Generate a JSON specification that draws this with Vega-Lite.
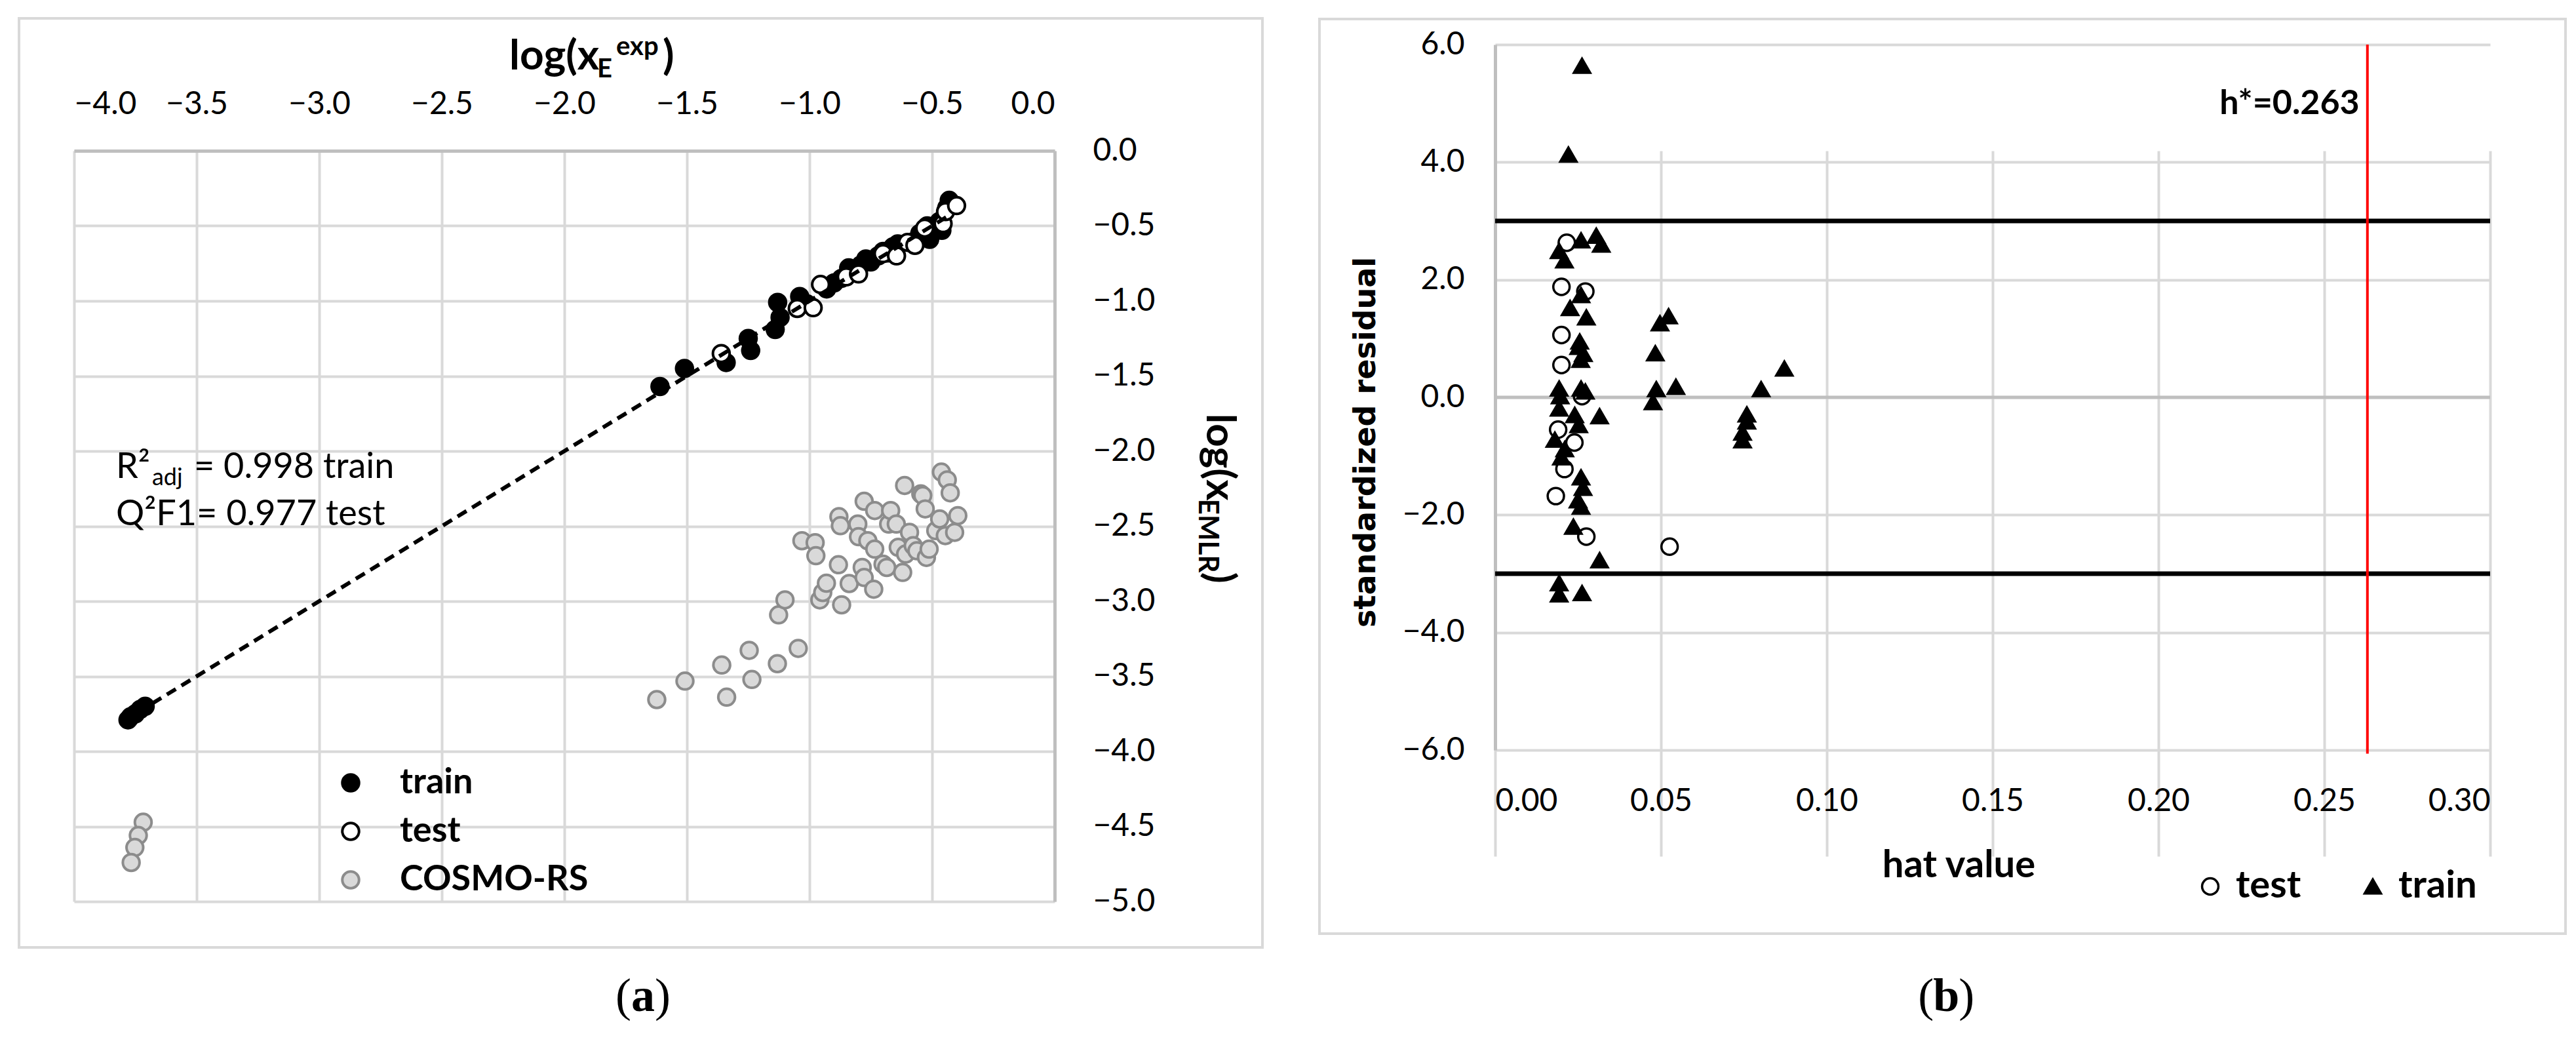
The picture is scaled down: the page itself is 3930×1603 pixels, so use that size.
{
  "$schema": "https://vega.github.io/schema/vega-lite/v6.json",
  "background": "white",
  "padding": {"left": 26, "top": 26, "right": 16, "bottom": 30},
  "spacing": 82,
  "resolve": {
    "scale": {"fill": "independent", "stroke": "independent", "shape": "independent"},
    "legend": {"fill": "independent", "stroke": "independent", "shape": "independent"}
  },
  "config": {
    "view": {"stroke": null},
    "axis": {"labelFont": "Lato", "titleFont": "Lato", "labelColor": "#000000", "titleColor": "#000000"},
    "legend": {"labelFont": "Lato", "labelColor": "#000000"},
    "text": {"font": "Lato", "color": "#000000"}
  },
  "datasets": {
    "a_points": [
      {"logx_exp": -3.78, "logx_emlr": -3.79, "series": "train"},
      {"logx_exp": -3.77, "logx_emlr": -3.77, "series": "train"},
      {"logx_exp": -3.75, "logx_emlr": -3.75, "series": "train"},
      {"logx_exp": -3.73, "logx_emlr": -3.72, "series": "train"},
      {"logx_exp": -3.71, "logx_emlr": -3.70, "series": "train"},
      {"logx_exp": -1.61, "logx_emlr": -1.57, "series": "train"},
      {"logx_exp": -1.51, "logx_emlr": -1.45, "series": "train"},
      {"logx_exp": -1.34, "logx_emlr": -1.41, "series": "train"},
      {"logx_exp": -1.25, "logx_emlr": -1.25, "series": "train"},
      {"logx_exp": -1.24, "logx_emlr": -1.33, "series": "train"},
      {"logx_exp": -1.14, "logx_emlr": -1.19, "series": "train"},
      {"logx_exp": -1.12, "logx_emlr": -1.11, "series": "train"},
      {"logx_exp": -1.13, "logx_emlr": -1.01, "series": "train"},
      {"logx_exp": -1.04, "logx_emlr": -0.97, "series": "train"},
      {"logx_exp": -1.01, "logx_emlr": -1.02, "series": "train"},
      {"logx_exp": -0.93, "logx_emlr": -0.92, "series": "train"},
      {"logx_exp": -0.90, "logx_emlr": -0.88, "series": "train"},
      {"logx_exp": -0.87, "logx_emlr": -0.85, "series": "train"},
      {"logx_exp": -0.85, "logx_emlr": -0.83, "series": "train"},
      {"logx_exp": -0.84, "logx_emlr": -0.78, "series": "train"},
      {"logx_exp": -0.81, "logx_emlr": -0.80, "series": "train"},
      {"logx_exp": -0.79, "logx_emlr": -0.76, "series": "train"},
      {"logx_exp": -0.77, "logx_emlr": -0.72, "series": "train"},
      {"logx_exp": -0.75, "logx_emlr": -0.74, "series": "train"},
      {"logx_exp": -0.72, "logx_emlr": -0.70, "series": "train"},
      {"logx_exp": -0.70, "logx_emlr": -0.67, "series": "train"},
      {"logx_exp": -0.68, "logx_emlr": -0.68, "series": "train"},
      {"logx_exp": -0.66, "logx_emlr": -0.64, "series": "train"},
      {"logx_exp": -0.64, "logx_emlr": -0.62, "series": "train"},
      {"logx_exp": -0.57, "logx_emlr": -0.60, "series": "train"},
      {"logx_exp": -0.55, "logx_emlr": -0.55, "series": "train"},
      {"logx_exp": -0.52, "logx_emlr": -0.50, "series": "train"},
      {"logx_exp": -0.51, "logx_emlr": -0.59, "series": "train"},
      {"logx_exp": -0.49, "logx_emlr": -0.52, "series": "train"},
      {"logx_exp": -0.47, "logx_emlr": -0.47, "series": "train"},
      {"logx_exp": -0.46, "logx_emlr": -0.53, "series": "train"},
      {"logx_exp": -0.44, "logx_emlr": -0.38, "series": "train"},
      {"logx_exp": -0.43, "logx_emlr": -0.33, "series": "train"},
      {"logx_exp": -1.36, "logx_emlr": -1.35, "series": "test"},
      {"logx_exp": -1.05, "logx_emlr": -1.05, "series": "test"},
      {"logx_exp": -0.985, "logx_emlr": -1.045, "series": "test"},
      {"logx_exp": -0.955, "logx_emlr": -0.89, "series": "test"},
      {"logx_exp": -0.85, "logx_emlr": -0.84, "series": "test"},
      {"logx_exp": -0.80, "logx_emlr": -0.82, "series": "test"},
      {"logx_exp": -0.70, "logx_emlr": -0.685, "series": "test"},
      {"logx_exp": -0.645, "logx_emlr": -0.70, "series": "test"},
      {"logx_exp": -0.60, "logx_emlr": -0.61, "series": "test"},
      {"logx_exp": -0.57, "logx_emlr": -0.63, "series": "test"},
      {"logx_exp": -0.53, "logx_emlr": -0.515, "series": "test"},
      {"logx_exp": -0.455, "logx_emlr": -0.485, "series": "test"},
      {"logx_exp": -0.445, "logx_emlr": -0.405, "series": "test"},
      {"logx_exp": -0.40, "logx_emlr": -0.365, "series": "test"},
      {"logx_exp": -3.718, "logx_emlr": -4.472, "series": "COSMO-RS"},
      {"logx_exp": -3.738, "logx_emlr": -4.56, "series": "COSMO-RS"},
      {"logx_exp": -3.752, "logx_emlr": -4.64, "series": "COSMO-RS"},
      {"logx_exp": -3.767, "logx_emlr": -4.74, "series": "COSMO-RS"},
      {"logx_exp": -1.623, "logx_emlr": -3.655, "series": "COSMO-RS"},
      {"logx_exp": -1.508, "logx_emlr": -3.532, "series": "COSMO-RS"},
      {"logx_exp": -1.358, "logx_emlr": -3.425, "series": "COSMO-RS"},
      {"logx_exp": -1.338, "logx_emlr": -3.639, "series": "COSMO-RS"},
      {"logx_exp": -1.246, "logx_emlr": -3.327, "series": "COSMO-RS"},
      {"logx_exp": -1.235, "logx_emlr": -3.521, "series": "COSMO-RS"},
      {"logx_exp": -1.131, "logx_emlr": -3.416, "series": "COSMO-RS"},
      {"logx_exp": -1.046, "logx_emlr": -3.314, "series": "COSMO-RS"},
      {"logx_exp": -1.126, "logx_emlr": -3.091, "series": "COSMO-RS"},
      {"logx_exp": -1.100, "logx_emlr": -2.991, "series": "COSMO-RS"},
      {"logx_exp": -1.031, "logx_emlr": -2.597, "series": "COSMO-RS"},
      {"logx_exp": -0.977, "logx_emlr": -2.610, "series": "COSMO-RS"},
      {"logx_exp": -0.974, "logx_emlr": -2.697, "series": "COSMO-RS"},
      {"logx_exp": -0.958, "logx_emlr": -2.991, "series": "COSMO-RS"},
      {"logx_exp": -0.946, "logx_emlr": -2.942, "series": "COSMO-RS"},
      {"logx_exp": -0.931, "logx_emlr": -2.880, "series": "COSMO-RS"},
      {"logx_exp": -0.869, "logx_emlr": -3.024, "series": "COSMO-RS"},
      {"logx_exp": -0.882, "logx_emlr": -2.757, "series": "COSMO-RS"},
      {"logx_exp": -0.880, "logx_emlr": -2.437, "series": "COSMO-RS"},
      {"logx_exp": -0.874, "logx_emlr": -2.497, "series": "COSMO-RS"},
      {"logx_exp": -0.838, "logx_emlr": -2.882, "series": "COSMO-RS"},
      {"logx_exp": -0.803, "logx_emlr": -2.486, "series": "COSMO-RS"},
      {"logx_exp": -0.800, "logx_emlr": -2.570, "series": "COSMO-RS"},
      {"logx_exp": -0.785, "logx_emlr": -2.775, "series": "COSMO-RS"},
      {"logx_exp": -0.777, "logx_emlr": -2.842, "series": "COSMO-RS"},
      {"logx_exp": -0.777, "logx_emlr": -2.334, "series": "COSMO-RS"},
      {"logx_exp": -0.762, "logx_emlr": -2.597, "series": "COSMO-RS"},
      {"logx_exp": -0.738, "logx_emlr": -2.920, "series": "COSMO-RS"},
      {"logx_exp": -0.734, "logx_emlr": -2.396, "series": "COSMO-RS"},
      {"logx_exp": -0.734, "logx_emlr": -2.653, "series": "COSMO-RS"},
      {"logx_exp": -0.700, "logx_emlr": -2.753, "series": "COSMO-RS"},
      {"logx_exp": -0.685, "logx_emlr": -2.775, "series": "COSMO-RS"},
      {"logx_exp": -0.677, "logx_emlr": -2.486, "series": "COSMO-RS"},
      {"logx_exp": -0.669, "logx_emlr": -2.396, "series": "COSMO-RS"},
      {"logx_exp": -0.646, "logx_emlr": -2.486, "series": "COSMO-RS"},
      {"logx_exp": -0.638, "logx_emlr": -2.641, "series": "COSMO-RS"},
      {"logx_exp": -0.620, "logx_emlr": -2.808, "series": "COSMO-RS"},
      {"logx_exp": -0.612, "logx_emlr": -2.229, "series": "COSMO-RS"},
      {"logx_exp": -0.608, "logx_emlr": -2.686, "series": "COSMO-RS"},
      {"logx_exp": -0.592, "logx_emlr": -2.541, "series": "COSMO-RS"},
      {"logx_exp": -0.577, "logx_emlr": -2.630, "series": "COSMO-RS"},
      {"logx_exp": -0.562, "logx_emlr": -2.664, "series": "COSMO-RS"},
      {"logx_exp": -0.546, "logx_emlr": -2.285, "series": "COSMO-RS"},
      {"logx_exp": -0.538, "logx_emlr": -2.296, "series": "COSMO-RS"},
      {"logx_exp": -0.528, "logx_emlr": -2.385, "series": "COSMO-RS"},
      {"logx_exp": -0.523, "logx_emlr": -2.708, "series": "COSMO-RS"},
      {"logx_exp": -0.512, "logx_emlr": -2.653, "series": "COSMO-RS"},
      {"logx_exp": -0.485, "logx_emlr": -2.530, "series": "COSMO-RS"},
      {"logx_exp": -0.469, "logx_emlr": -2.452, "series": "COSMO-RS"},
      {"logx_exp": -0.462, "logx_emlr": -2.140, "series": "COSMO-RS"},
      {"logx_exp": -0.438, "logx_emlr": -2.192, "series": "COSMO-RS"},
      {"logx_exp": -0.446, "logx_emlr": -2.563, "series": "COSMO-RS"},
      {"logx_exp": -0.426, "logx_emlr": -2.278, "series": "COSMO-RS"},
      {"logx_exp": -0.408, "logx_emlr": -2.541, "series": "COSMO-RS"},
      {"logx_exp": -0.395, "logx_emlr": -2.430, "series": "COSMO-RS"}
    ],
    "b_points": [
      {"hat": 0.0262, "res": 5.64, "set": "train"},
      {"hat": 0.0221, "res": 4.13, "set": "train"},
      {"hat": 0.0193, "res": 2.49, "set": "train"},
      {"hat": 0.0259, "res": 2.67, "set": "train"},
      {"hat": 0.0305, "res": 2.75, "set": "train"},
      {"hat": 0.0320, "res": 2.60, "set": "train"},
      {"hat": 0.0209, "res": 2.33, "set": "train"},
      {"hat": 0.0259, "res": 1.74, "set": "train"},
      {"hat": 0.0226, "res": 1.52, "set": "train"},
      {"hat": 0.0275, "res": 1.36, "set": "train"},
      {"hat": 0.0497, "res": 1.26, "set": "train"},
      {"hat": 0.0523, "res": 1.38, "set": "train"},
      {"hat": 0.0483, "res": 0.75, "set": "train"},
      {"hat": 0.0252, "res": 0.86, "set": "train"},
      {"hat": 0.0266, "res": 0.74, "set": "train"},
      {"hat": 0.0258, "res": 0.64, "set": "train"},
      {"hat": 0.0255, "res": 0.95, "set": "train"},
      {"hat": 0.0193, "res": 0.15, "set": "train"},
      {"hat": 0.0259, "res": 0.15, "set": "train"},
      {"hat": 0.0272, "res": 0.10, "set": "train"},
      {"hat": 0.0486, "res": 0.14, "set": "train"},
      {"hat": 0.0476, "res": -0.08, "set": "train"},
      {"hat": 0.0545, "res": 0.18, "set": "train"},
      {"hat": 0.0802, "res": 0.14, "set": "train"},
      {"hat": 0.0872, "res": 0.49, "set": "train"},
      {"hat": 0.0759, "res": -0.29, "set": "train"},
      {"hat": 0.0759, "res": -0.41, "set": "train"},
      {"hat": 0.0746, "res": -0.60, "set": "train"},
      {"hat": 0.0746, "res": -0.73, "set": "train"},
      {"hat": 0.0193, "res": -0.19, "set": "train"},
      {"hat": 0.0196, "res": 0.02, "set": "train"},
      {"hat": 0.0315, "res": -0.32, "set": "train"},
      {"hat": 0.0252, "res": -0.47, "set": "train"},
      {"hat": 0.0240, "res": -0.30, "set": "train"},
      {"hat": 0.0180, "res": -0.72, "set": "train"},
      {"hat": 0.0200, "res": -1.02, "set": "train"},
      {"hat": 0.0210, "res": -0.88, "set": "train"},
      {"hat": 0.0259, "res": -1.36, "set": "train"},
      {"hat": 0.0265, "res": -1.54, "set": "train"},
      {"hat": 0.0250, "res": -1.75, "set": "train"},
      {"hat": 0.0259, "res": -1.86, "set": "train"},
      {"hat": 0.0236, "res": -2.20, "set": "train"},
      {"hat": 0.0315, "res": -2.77, "set": "train"},
      {"hat": 0.0193, "res": -3.16, "set": "train"},
      {"hat": 0.0193, "res": -3.35, "set": "train"},
      {"hat": 0.0262, "res": -3.33, "set": "train"},
      {"hat": 0.0216, "res": 2.63, "set": "test"},
      {"hat": 0.0200, "res": 1.88, "set": "test"},
      {"hat": 0.0272, "res": 1.80, "set": "test"},
      {"hat": 0.0200, "res": 1.06, "set": "test"},
      {"hat": 0.0200, "res": 0.55, "set": "test"},
      {"hat": 0.0262, "res": 0.02, "set": "test"},
      {"hat": 0.0190, "res": -0.55, "set": "test"},
      {"hat": 0.0239, "res": -0.77, "set": "test"},
      {"hat": 0.0209, "res": -1.22, "set": "test"},
      {"hat": 0.0183, "res": -1.68, "set": "test"},
      {"hat": 0.0275, "res": -2.37, "set": "test"},
      {"hat": 0.0526, "res": -2.54, "set": "test"}
    ]
  },
  "hconcat": [
    {
      "width": 1496,
      "height": 1145,
      "layer": [
        {
          "data": {"values": [{"frame": "a"}]},
          "mark": {"type": "rect", "fill": "transparent", "stroke": "#d9d9d9", "strokeWidth": 4, "clip": false},
          "encoding": {
            "x": {"datum": -4.2246, "type": "quantitative", "scale": {"domain": [-4, 0], "nice": false, "zero": false}},
            "x2": {"datum": 0.8476},
            "y": {"datum": 0.882, "type": "quantitative", "scale": {"domain": [-5, 0], "nice": false, "zero": false}},
            "y2": {"datum": -5.306}
          }
        },
        {
          "data": {"name": "a_points"},
          "mark": {"type": "point", "shape": "circle", "filled": true, "size": 650, "strokeWidth": 4, "opacity": 1},
          "encoding": {
            "x": {"field": "logx_exp", "type": "quantitative", "scale": {"domain": [-4, 0], "nice": false, "zero": false},
              "axis": {"orient": "top", "title": null, "values": [-4, -3.5, -3, -2.5, -2, -1.5, -1, -0.5, 0], "format": ".1f",
                "grid": true, "gridColor": "#d9d9d9", "gridWidth": 4, "ticks": false, "domain": true, "domainColor": "#bfbfbf", "domainWidth": 5,
                "labelFontSize": 48, "labelPadding": 47}},
            "y": {"field": "logx_emlr", "type": "quantitative", "scale": {"domain": [-5, 0], "nice": false, "zero": false},
              "axis": {"orient": "right", "title": null, "values": [-5, -4.5, -4, -3.5, -3, -2.5, -2, -1.5, -1, -0.5, 0], "format": ".1f",
                "grid": true, "gridColor": "#d9d9d9", "gridWidth": 4, "ticks": false, "domain": true, "domainColor": "#bfbfbf", "domainWidth": 5,
                "labelFontSize": 48, "labelPadding": 58}},
            "fill": {"field": "series", "type": "nominal",
              "scale": {"domain": ["train", "test", "COSMO-RS"], "range": ["#000000", "#ffffff", "#d9d9d9"]},
              "legend": {"title": null, "orient": "none", "legendX": 395, "legendY": 937, "direction": "vertical", "padding": 0,
                "labelFontSize": 54, "labelFontWeight": "bold", "labelLimit": 500, "symbolSize": 650, "symbolStrokeWidth": 4, "symbolType": "circle",
                "labelOffset": 48, "rowPadding": 20}},
            "stroke": {"field": "series", "type": "nominal",
              "scale": {"domain": ["train", "test", "COSMO-RS"], "range": ["#000000", "#000000", "#8c8c8c"]},
              "legend": {"title": null, "orient": "none", "legendX": 395, "legendY": 937, "direction": "vertical", "padding": 0,
                "labelFontSize": 54, "labelFontWeight": "bold", "labelLimit": 500, "symbolSize": 650, "symbolStrokeWidth": 4, "symbolType": "circle",
                "labelOffset": 48, "rowPadding": 20}}
          }
        },
        {
          "data": {"values": [{"xe": -3.74, "ye": -3.74}, {"xe": -0.42, "ye": -0.42}]},
          "mark": {"type": "line", "color": "#000000", "strokeWidth": 6, "strokeDash": [16, 10]},
          "encoding": {
            "x": {"field": "xe", "type": "quantitative", "scale": {"domain": [-4, 0], "nice": false, "zero": false}},
            "y": {"field": "ye", "type": "quantitative", "scale": {"domain": [-5, 0], "nice": false, "zero": false}}
          }
        },
        {
          "data": {"values": [{"t": "R²"}]},
          "mark": {"type": "text", "align": "left", "baseline": "alphabetic", "fontSize": 54},
          "encoding": {"x": {"datum": -3.829, "type": "quantitative"}, "y": {"datum": -2.179, "type": "quantitative"}, "text": {"field": "t"}}
        },
        {
          "data": {"values": [{"t": "adj"}]},
          "mark": {"type": "text", "align": "left", "baseline": "alphabetic", "fontSize": 36, "dx": 55, "dy": 11},
          "encoding": {"x": {"datum": -3.829, "type": "quantitative"}, "y": {"datum": -2.179, "type": "quantitative"}, "text": {"field": "t"}}
        },
        {
          "data": {"values": [{"t": "= 0.998 train"}]},
          "mark": {"type": "text", "align": "left", "baseline": "alphabetic", "fontSize": 54, "dx": 119},
          "encoding": {"x": {"datum": -3.829, "type": "quantitative"}, "y": {"datum": -2.179, "type": "quantitative"}, "text": {"field": "t"}}
        },
        {
          "data": {"values": [{"t": "Q²F1= 0.977 test"}]},
          "mark": {"type": "text", "align": "left", "baseline": "alphabetic", "fontSize": 54},
          "encoding": {"x": {"datum": -3.829, "type": "quantitative"}, "y": {"datum": -2.494, "type": "quantitative"}, "text": {"field": "t"}}
        },
        {
          "data": {"values": [{"t": "log(x"}]},
          "mark": {"type": "text", "align": "left", "baseline": "alphabetic", "fontSize": 64, "fontWeight": "bold"},
          "encoding": {"x": {"datum": -2.2246, "type": "quantitative"}, "y": {"datum": 0.541, "type": "quantitative"}, "text": {"field": "t"}}
        },
        {
          "data": {"values": [{"t": "E"}]},
          "mark": {"type": "text", "align": "left", "baseline": "alphabetic", "fontSize": 40, "fontWeight": "bold", "dx": 134, "dy": 12},
          "encoding": {"x": {"datum": -2.2246, "type": "quantitative"}, "y": {"datum": 0.541, "type": "quantitative"}, "text": {"field": "t"}}
        },
        {
          "data": {"values": [{"t": "exp"}]},
          "mark": {"type": "text", "align": "left", "baseline": "alphabetic", "fontSize": 40, "fontWeight": "bold", "dx": 163, "dy": -22},
          "encoding": {"x": {"datum": -2.2246, "type": "quantitative"}, "y": {"datum": 0.541, "type": "quantitative"}, "text": {"field": "t"}}
        },
        {
          "data": {"values": [{"t": ")"}]},
          "mark": {"type": "text", "align": "left", "baseline": "alphabetic", "fontSize": 64, "fontWeight": "bold", "dx": 234},
          "encoding": {"x": {"datum": -2.2246, "type": "quantitative"}, "y": {"datum": 0.541, "type": "quantitative"}, "text": {"field": "t"}}
        },
        {
          "data": {"values": [{"t": "log(x"}]},
          "mark": {"type": "text", "align": "left", "baseline": "alphabetic", "fontSize": 62, "fontWeight": "bold", "angle": 90},
          "encoding": {"x": {"datum": 0.6207, "type": "quantitative"}, "y": {"datum": -1.75, "type": "quantitative"}, "text": {"field": "t"}}
        },
        {
          "data": {"values": [{"t": "EMLR"}]},
          "mark": {"type": "text", "align": "left", "baseline": "alphabetic", "fontSize": 42, "fontWeight": "bold", "angle": 90, "dx": 130, "dy": 12},
          "encoding": {"x": {"datum": 0.6207, "type": "quantitative"}, "y": {"datum": -1.75, "type": "quantitative"}, "text": {"field": "t"}}
        },
        {
          "data": {"values": [{"t": ")"}]},
          "mark": {"type": "text", "align": "left", "baseline": "alphabetic", "fontSize": 62, "fontWeight": "bold", "angle": 90, "dx": 242},
          "encoding": {"x": {"datum": 0.6207, "type": "quantitative"}, "y": {"datum": -1.75, "type": "quantitative"}, "text": {"field": "t"}}
        },
        {
          "data": {"values": [{"t": "("}]},
          "mark": {"type": "text", "align": "right", "baseline": "middle", "font": "Liberation Serif", "fontSize": 72, "dx": -18},
          "encoding": {"x": {"datum": -1.679, "type": "quantitative"}, "y": {"datum": -5.633, "type": "quantitative"}, "text": {"field": "t"}}
        },
        {
          "data": {"values": [{"t": "a"}]},
          "mark": {"type": "text", "align": "center", "baseline": "middle", "font": "Liberation Serif", "fontSize": 72, "fontWeight": "bold"},
          "encoding": {"x": {"datum": -1.679, "type": "quantitative"}, "y": {"datum": -5.633, "type": "quantitative"}, "text": {"field": "t"}}
        },
        {
          "data": {"values": [{"t": ")"}]},
          "mark": {"type": "text", "align": "left", "baseline": "middle", "font": "Liberation Serif", "fontSize": 72, "dx": 18},
          "encoding": {"x": {"datum": -1.679, "type": "quantitative"}, "y": {"datum": -5.633, "type": "quantitative"}, "text": {"field": "t"}}
        }
      ]
    },
    {
      "width": 1518,
      "height": 914,
      "layer": [
        {
          "data": {"values": [{"frame": "b"}]},
          "mark": {"type": "rect", "fill": "transparent", "stroke": "#d9d9d9", "strokeWidth": 4, "clip": false},
          "encoding": {
            "x": {"datum": -0.05296, "type": "quantitative", "scale": {"domain": [0, 0.3], "nice": false, "zero": false}},
            "x2": {"datum": 0.32273},
            "y": {"datum": 6.435, "type": "quantitative", "scale": {"domain": [-6, 6], "nice": false, "zero": false, "range": [914, -162]}},
            "y2": {"datum": -9.123}
          }
        },
        {
          "data": {"values": [{"zero": 0}]},
          "mark": {"type": "rule", "color": "#bfbfbf", "strokeWidth": 5},
          "encoding": {"y": {"field": "zero", "type": "quantitative", "scale": {"domain": [-6, 6], "nice": false, "zero": false, "range": [914, -162]}}}
        },
        {
          "data": {"values": [{"limit": 3}, {"limit": -3}]},
          "mark": {"type": "rule", "color": "#000000", "strokeWidth": 7},
          "encoding": {"y": {"field": "limit", "type": "quantitative", "scale": {"domain": [-6, 6], "nice": false, "zero": false, "range": [914, -162]}}}
        },
        {
          "data": {"values": [{"hstar": 0.263}]},
          "mark": {"type": "rule", "color": "#ff0000", "strokeWidth": 4},
          "encoding": {
            "x": {"field": "hstar", "type": "quantitative", "scale": {"domain": [0, 0.3], "nice": false, "zero": false}},
            "y": {"datum": 6, "type": "quantitative", "scale": {"domain": [-6, 6], "nice": false, "zero": false, "range": [914, -162]}},
            "y2": {"datum": -6.06}
          }
        },
        {
          "data": {"name": "b_points"},
          "mark": {"type": "point", "filled": true, "size": 620, "strokeWidth": 3.5, "opacity": 1},
          "encoding": {
            "x": {"field": "hat", "type": "quantitative", "scale": {"domain": [0, 0.3], "nice": false, "zero": false},
              "axis": {"orient": "bottom", "title": "hat value", "values": [0, 0.05, 0.1, 0.15, 0.2, 0.25, 0.3], "format": ".2f",
                "grid": true, "gridColor": "#d9d9d9", "gridWidth": 4, "ticks": false, "domain": false,
                "labelFontSize": 48, "labelPadding": 54,
                "titleFontSize": 58, "titleFontWeight": "bold", "titleX": 707, "titleY": 176, "titleBaseline": "middle"}},
            "y": {"field": "res", "type": "quantitative", "scale": {"domain": [-6, 6], "nice": false, "zero": false, "range": [914, -162]},
              "axis": {"orient": "left", "title": "standardized  residual", "values": [-6, -4, -2, 0, 2, 4, 6], "format": ".1f",
                "grid": true, "gridColor": "#d9d9d9", "gridWidth": 4, "ticks": false, "domain": true, "domainColor": "#bfbfbf", "domainWidth": 5,
                "labelFontSize": 48, "labelPadding": 47,
                "titleFont": "DejaVu Sans", "titleFontSize": 46, "titleFontWeight": "bold", "titleX": -198, "titleY": 444, "titleBaseline": "middle", "titleAngle": -90}},
            "shape": {"field": "set", "type": "nominal", "scale": {"domain": ["test", "train"], "range": ["circle", "triangle-up"]},
              "legend": {"title": null, "orient": "none", "legendX": 1062, "legendY": 1093, "direction": "horizontal", "padding": 0,
                "labelFontSize": 58, "labelFontWeight": "bold", "symbolSize": 620, "symbolStrokeWidth": 3.5, "labelOffset": 10, "columnPadding": 80}},
            "fill": {"field": "set", "type": "nominal", "scale": {"domain": ["test", "train"], "range": ["transparent", "#000000"]},
              "legend": {"title": null, "orient": "none", "legendX": 1062, "legendY": 1093, "direction": "horizontal", "padding": 0,
                "labelFontSize": 58, "labelFontWeight": "bold", "symbolSize": 620, "symbolStrokeWidth": 3.5, "labelOffset": 10, "columnPadding": 80}},
            "stroke": {"field": "set", "type": "nominal", "scale": {"domain": ["test", "train"], "range": ["#000000", "#000000"]},
              "legend": {"title": null, "orient": "none", "legendX": 1062, "legendY": 1093, "direction": "horizontal", "padding": 0,
                "labelFontSize": 58, "labelFontWeight": "bold", "symbolSize": 620, "symbolStrokeWidth": 3.5, "labelOffset": 10, "columnPadding": 80}}
          }
        },
        {
          "data": {"values": [{"t": "h*=0.263"}]},
          "mark": {"type": "text", "align": "right", "baseline": "middle", "fontSize": 52, "fontWeight": "bold", "dx": -12},
          "encoding": {"x": {"datum": 0.263, "type": "quantitative"}, "y": {"datum": 5.0, "type": "quantitative"}, "text": {"field": "t"}}
        },
        {
          "data": {"values": [{"t": "("}]},
          "mark": {"type": "text", "align": "right", "baseline": "middle", "font": "Liberation Serif", "fontSize": 72, "dx": -19},
          "encoding": {"x": {"datum": 0.136, "type": "quantitative"}, "y": {"datum": -10.19, "type": "quantitative"}, "text": {"field": "t"}}
        },
        {
          "data": {"values": [{"t": "b"}]},
          "mark": {"type": "text", "align": "center", "baseline": "middle", "font": "Liberation Serif", "fontSize": 72, "fontWeight": "bold"},
          "encoding": {"x": {"datum": 0.136, "type": "quantitative"}, "y": {"datum": -10.19, "type": "quantitative"}, "text": {"field": "t"}}
        },
        {
          "data": {"values": [{"t": ")"}]},
          "mark": {"type": "text", "align": "left", "baseline": "middle", "font": "Liberation Serif", "fontSize": 72, "dx": 19},
          "encoding": {"x": {"datum": 0.136, "type": "quantitative"}, "y": {"datum": -10.19, "type": "quantitative"}, "text": {"field": "t"}}
        }
      ]
    }
  ]
}
